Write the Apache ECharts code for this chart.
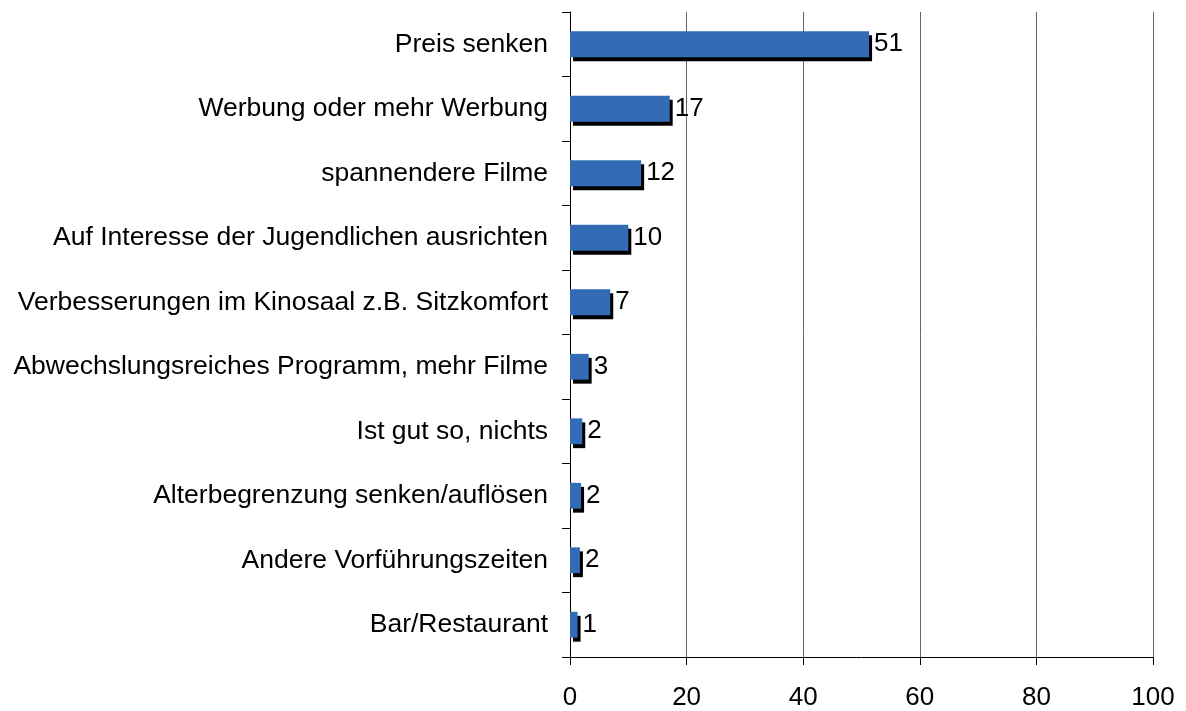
<!DOCTYPE html>
<html>
<head>
<meta charset="utf-8">
<style>
    html, body {margin: 0; padding: 0; background: #fff;}
    #chart {width: 1186px; height: 711px;}
</style>
</head>
<body>
<div id="chart"></div>
<script src="https://cdn.jsdelivr.net/npm/echarts@6/dist/echarts.min.js"></script>
<script>
    // Kategorien von oben nach unten
    var categories = ['Preis senken', 'Werbung oder mehr Werbung', 'spannendere Filme',
        'Auf Interesse der Jugendlichen ausrichten', 'Verbesserungen im Kinosaal z.B. Sitzkomfort',
        'Abwechslungsreiches Programm, mehr Filme', 'Ist gut so, nichts',
        'Alterbegrenzung senken/auflösen', 'Andere Vorführungszeiten', 'Bar/Restaurant'];
    var values = [51.3, 17.1, 12.2, 10.0, 6.9, 3.2, 2.1, 1.9, 1.7, 1.3];
    var xTicks = [0, 20, 40, 60, 80, 100];

    var font = 'Liberation Sans, Arial, sans-serif';
    var chart = echarts.init(document.getElementById('chart'));
    var option = {
        animation: false,
        grid: {left: 570, right: 33, top: 12, bottom: 52, containLabel: false},
        xAxis: {
            type: 'value',
            min: xTicks[0],
            max: xTicks[xTicks.length - 1],
            interval: 20,
            axisLine: {show: true, lineStyle: {color: '#000', width: 1}},
            axisTick: {show: true, length: 8, lineStyle: {color: '#000'}},
            axisLabel: {color: '#000', fontSize: 26, fontFamily: font, margin: 28},
            splitLine: {show: true, lineStyle: {color: '#666', width: 1}}
        },
        yAxis: {
            type: 'category',
            inverse: true,
            data: categories,
            axisLine: {show: true, lineStyle: {color: '#000', width: 1}},
            axisTick: {show: true, length: 8, lineStyle: {color: '#000'}},
            axisLabel: {color: '#000', fontSize: 26.5, fontFamily: font, margin: 22}
        },
        series: [{
            type: 'bar',
            data: values,
            barWidth: '40%',
            itemStyle: {
                color: '#336cb4',
                shadowColor: '#000',
                shadowBlur: 0,
                shadowOffsetX: 3,
                shadowOffsetY: 4
            },
            label: {
                show: true,
                position: 'right',
                distance: 5,
                color: '#000',
                fontSize: 26,
                fontFamily: font,
                formatter: function (p) { return Math.round(p.value); }
            }
        }]
    };
    chart.setOption(option);
</script>
</body>
</html>
